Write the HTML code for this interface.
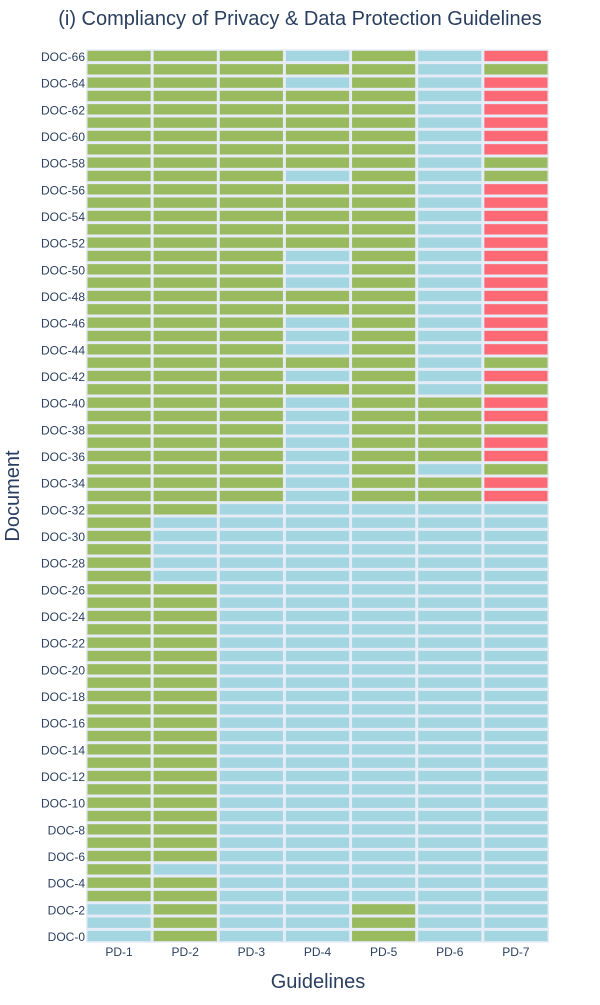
<!DOCTYPE html>
<html><head><meta charset="utf-8"><style>
body{margin:0;background:#fff;width:600px;height:1000px;overflow:hidden}
svg text{font-family:"Liberation Sans",Arial,sans-serif;fill:#2a3f5f}
</style></head><body>
<svg id="chart" width="600" height="1000" xmlns="http://www.w3.org/2000/svg">
<text x="300" y="25" text-anchor="middle" font-size="20">(i) Compliancy of Privacy &amp; Data Protection Guidelines</text>
<text x="318" y="988" text-anchor="middle" font-size="20">Guidelines</text>
<text transform="translate(19,496) rotate(-90)" text-anchor="middle" font-size="20">Document</text>
<g id="cells"></g><g id="xt"></g><g id="yt"></g>
</svg>
<script>
// categories
const guidelines = ["PD-1","PD-2","PD-3","PD-4","PD-5","PD-6","PD-7"];
// values per document, DOC-0 .. DOC-66 ; 1 = compliant, 0 = not applicable, -1 (N) = non-compliant
const docRows = [
"0100100","0100100","0100100","1100000","1100000","1000000",
"1100000","1100000","1100000","1100000","1100000","1100000","1100000","1100000","1100000","1100000","1100000",
"1100000","1100000","1100000","1100000","1100000","1100000","1100000","1100000","1100000","1100000",
"1000000","1000000","1000000","1000000","1000000",
"1100000",
"111011N","111011N","1110101","111011N","111011N","1110111","111011N","111011N",
"1111101","111010N","1111101","111010N","111010N","111010N","111110N","111110N",
"111010N","111010N","111010N","111110N","111110N","111110N","111110N","111110N",
"1110101","1111101","111110N","111110N","111110N","111110N","111110N","111010N",
"1111101","111010N"
];
const values = docRows.map(r => r.split("").map(c => c === "N" ? -1 : +c));
const docs = values.map((_, i) => "DOC-" + i);
const yTickDocs = docs.filter((_, i) => i % 2 === 0);

const X0 = 86, X1 = 549, Y0 = 49.3, Y1 = 942.7, GAP = 3;
const cw = (X1 - X0) / guidelines.length, rh = (Y1 - Y0) / docs.length;
const xPos = j => X0 + j * cw;
const yPos = i => Y1 - (i + 1) * rh;
const color = v => v === 1 ? "#9aba5f" : v === -1 ? "#fd6a76" : "#a4d6e2";
const NS = "http://www.w3.org/2000/svg";
const svg = document.getElementById("chart");
const bg = document.createElementNS(NS, "rect");
bg.setAttribute("x", X0); bg.setAttribute("y", Y0); bg.setAttribute("width", X1 - X0); bg.setAttribute("height", Y1 - Y0); bg.setAttribute("fill", "#e5ecf6");


svg.insertBefore(bg, document.getElementById("cells"));
const cells = document.getElementById("cells");
values.forEach((row, i) => row.forEach((v, j) => {
  const r = document.createElementNS(NS, "rect");
  r.setAttribute("x", xPos(j) + GAP / 2); r.setAttribute("y", yPos(i) + GAP / 2);
  r.setAttribute("width", cw - GAP); r.setAttribute("height", rh - GAP);
  r.setAttribute("fill", color(v));
  
  
  cells.appendChild(r);
}));
const xt = document.getElementById("xt");
guidelines.forEach((g, j) => {
  const t = document.createElementNS(NS, "text");
  t.setAttribute("x", xPos(j) + cw / 2); t.setAttribute("y", 956); t.setAttribute("text-anchor", "middle"); t.setAttribute("font-size", "12");
  t.textContent = g;
  
  
  xt.appendChild(t);
});
const yt = document.getElementById("yt");
yTickDocs.forEach(d => {
  const i = docs.indexOf(d);
  const t = document.createElementNS(NS, "text");
  t.setAttribute("x", 85); t.setAttribute("y", yPos(i) + rh / 2 + 5); t.setAttribute("text-anchor", "end"); t.setAttribute("font-size", "12");
  t.textContent = d;
  
  
  yt.appendChild(t);
});
</script>
</body></html>
